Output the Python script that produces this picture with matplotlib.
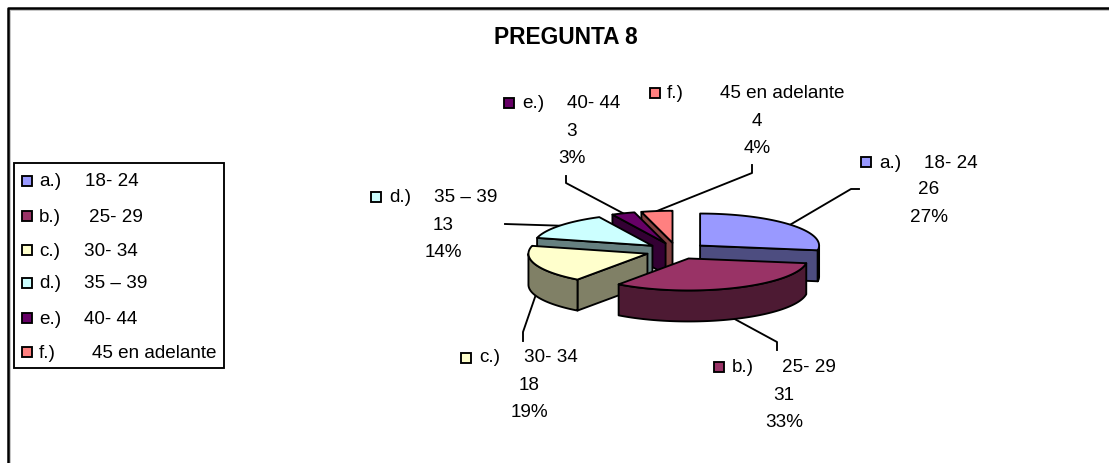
import numpy as np
import matplotlib
matplotlib.use('Agg')
import matplotlib.pyplot as plt
from matplotlib.patches import Polygon, Rectangle

plt.rcParams['font.family'] = ['Liberation Sans', 'DejaVu Sans']

letters = ['a.)', 'b.)', 'c.)', 'd.)', 'e.)', 'f.)']
ranges = ['18- 24', '25- 29', '30- 34', '35 – 39', '40- 44', '45 en adelante']
values = [26, 31, 18, 13, 3, 4]
top_colors = ['#9999FF', '#993366', '#FFFFCC', '#CCFFFF', '#660066', '#FF8080']
side_colors = ['#4D4D80', '#4D1A33', '#808066', '#668080', '#330033', '#804040']

# pie geometry in pixels
cx, cy = 676.6, 250.9
rx, ry = 119, 32
depth = 31
explode_x, explode_y = 31, 8.2

# label layout: marker x, marker y, letter x, range x, centre x, first line y
label_pos = [
    (866, 162, 879, 924, 929, 163),
    (719, 367, 732, 782, 784, 368),
    (466, 358, 479, 524, 529, 358),
    (376, 197, 389, 434, 443, 198),
    (509, 103, 522, 567, 572, 104),
    (655, 93, 667, 720, 757, 94),
]
# rest of each leader line, after it leaves the rim
leader_ends = [
    [(851, 189), (859, 189)],
    [(777, 342), (777, 350)],
    [(523, 332), (523, 341)],
    [(505, 224)],
    [(566, 183), (566, 176)],
    [(752, 173), (752, 165)],
]
legend_y = [181, 216, 250, 283, 318, 352]
legend_range_x = [85, 89, 84, 84, 84, 92]

FONT = 13.6
LW = 1.35

fig = plt.figure(figsize=(11.09, 4.63), dpi=100)
ax = fig.add_axes([0, 0, 1, 1])
ax.set_xlim(0, 1109)
ax.set_ylim(463, 0)
ax.axis('off')


def rim(x0, y0, angle):
    return x0 + rx * np.sin(angle), y0 - ry * np.cos(angle)


def face(points, color, zorder):
    ax.add_patch(Polygon(points, closed=True, facecolor=color, edgecolor='black',
                         linewidth=LW, joinstyle='round', zorder=zorder))


def draw_slice(x0, y0, a1, a2, top, side, zorder):
    # radial walls, only those which look towards the viewer
    for angle, normal in ((a1, a1 - np.pi / 2), (a2, a2 + np.pi / 2)):
        if np.cos(normal) < 0:
            x, y = rim(x0, y0, angle)
            face([(x0, y0), (x, y), (x, y + depth), (x0, y0 + depth)], side, zorder)

    # outer wall, front half of the ellipse only
    lo, hi = max(a1, np.pi / 2), min(a2, 3 * np.pi / 2)
    if hi > lo:
        t = np.linspace(lo, hi, 80)
        x, y = rim(x0, y0, t)
        face(list(zip(x, y)) + list(zip(x[::-1], y[::-1] + depth)), side, zorder)

    t = np.linspace(a1, a2, 80)
    x, y = rim(x0, y0, t)
    face([(x0, y0)] + list(zip(x, y)), top, zorder)


total = sum(values)
edges = np.concatenate([[0], np.cumsum(values)]) / total * 2 * np.pi
mids = (edges[:-1] + edges[1:]) / 2
apex_x = cx + explode_x * np.sin(mids)
apex_y = cy - explode_y * np.cos(mids)

# painter's order, back slices first
for n, i in enumerate(np.argsort(apex_y)):
    draw_slice(apex_x[i], apex_y[i], edges[i], edges[i + 1],
               top_colors[i], side_colors[i], 3 + n)

# leader lines start on the rim at the middle of each slice
for i in range(len(values)):
    x, y = rim(apex_x[i], apex_y[i], mids[i])
    if np.cos(mids[i]) < 0:
        y += depth
    pts = [(x, y)] + leader_ends[i]
    ax.plot([p[0] for p in pts], [p[1] for p in pts], color='black', lw=LW, zorder=2)


def marker(x, y, color):
    ax.add_patch(Rectangle((x - 5, y - 5), 10, 10, facecolor=color, edgecolor='black',
                           linewidth=LW, zorder=6))


# data labels
for i, (mx, my, lx, rx_, tx, ty) in enumerate(label_pos):
    marker(mx, my, top_colors[i])
    ax.text(lx, ty, letters[i], fontsize=FONT, va='center', ha='left')
    ax.text(rx_, ty, ranges[i], fontsize=FONT, va='center', ha='left')
    ax.text(tx, ty + 27, str(values[i]), fontsize=FONT, va='center', ha='center')
    ax.text(tx, ty + 54.5, '%d%%' % round(100 * values[i] / total), fontsize=FONT,
            va='center', ha='center')

# legend box
ax.add_patch(Rectangle((13.5, 163), 210.5, 205, facecolor='white', edgecolor='black',
                       linewidth=LW, zorder=1))
for i, y in enumerate(legend_y):
    marker(27, y, top_colors[i])
    ax.text(39, y + 1, letters[i], fontsize=FONT, va='center', ha='left')
    ax.text(legend_range_x[i], y + 1, ranges[i], fontsize=FONT, va='center', ha='left')

ax.text(565.5, 37, 'PREGUNTA 8', fontsize=16.4, fontweight='bold', va='center', ha='center')

# outer frame, runs off the right and bottom of the picture
ax.plot([9.5, 9.5, 1109], [463, 9.5, 9.5], color='#bbbbbb', lw=1.2, zorder=0)
ax.plot([8, 8, 1109], [463, 8, 8], color='black', lw=1.8, zorder=1)

fig.savefig('out.png', dpi=100)
